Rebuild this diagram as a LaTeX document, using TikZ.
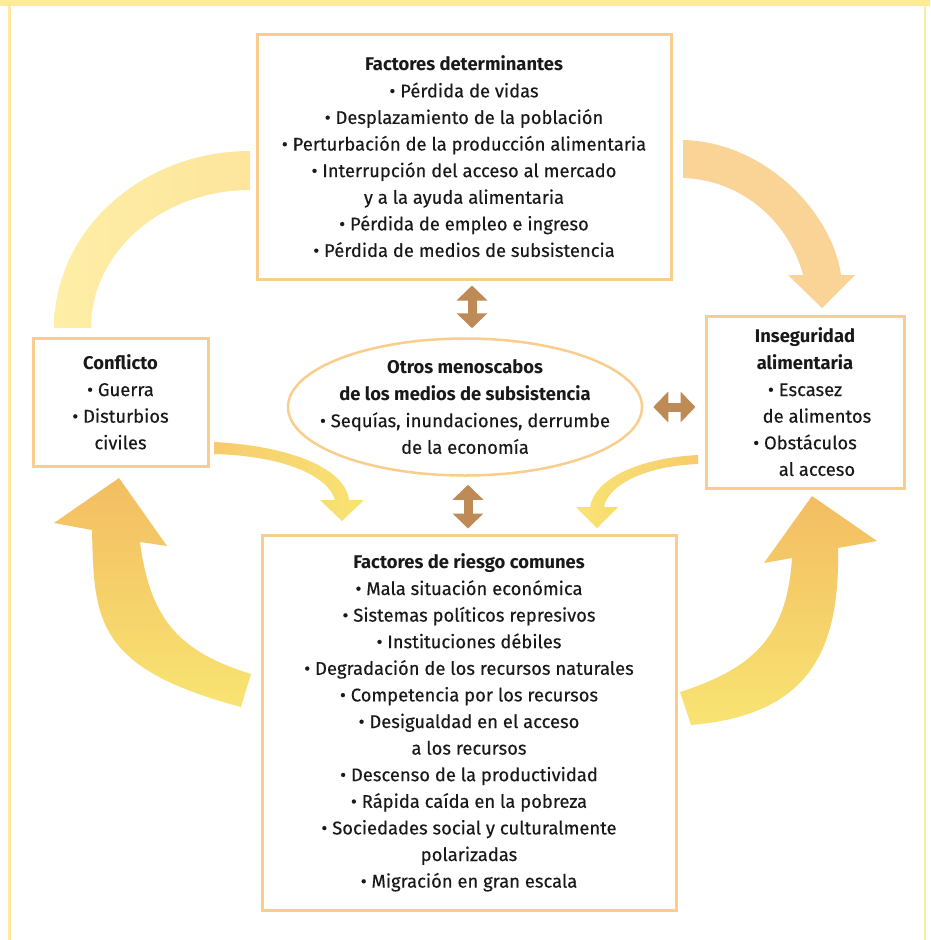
\documentclass[tikz,border=0pt]{standalone}
\usepackage{fontspec}
\setmainfont{Fira Sans}[UprightFeatures={FakeBold=0.3}]
\usetikzlibrary{arrows.meta,shapes.geometric}
\definecolor{frameyellow}{HTML}{FDEB9B}
\definecolor{boxorange}{HTML}{F9CD8B}
\definecolor{linkbrown}{HTML}{BE8A56}
\definecolor{arclight}{HTML}{FEEEA6}
\definecolor{arcdark}{HTML}{FDE59C}
\definecolor{arcorange}{HTML}{FAD396}
\definecolor{flowyellow}{HTML}{F8E472}
\definecolor{floworange}{HTML}{F3BD62}
\definecolor{thinorange}{HTML}{F7CB6E}
\tikzset{
  txt/.style={align=center, inner sep=0pt, text=black!90,
    font=\fontsize{18.4}{26.6}\selectfont},
  box/.style={txt, draw=boxorange, line width=3pt, fill=white},
  link/.style={linkbrown, line width=9pt,
    {Triangle[length=15pt,width=30pt]}-{Triangle[length=15pt,width=30pt]}}
}
\begin{document}
\begin{tikzpicture}[x=1pt,y=-1pt]
	\useasboundingbox (0,0) rectangle (930,940);
	% frame
	\fill[frameyellow] (0,0) rectangle (930,6);
	\fill[frameyellow] (8,6) rectangle (10.5,940);
	\fill[frameyellow] (923.5,6) rectangle (926,940);
	% big arrows round the cycle
	\shade[left color=arclight, right color=arcdark]
	(54,328) arc[start angle=180, end angle=270, x radius=196, y radius=177]
	-- (250,190) arc[start angle=270, end angle=180, x radius=159, y radius=138]
	-- cycle;
	\fill[arcorange]
	(683,140) .. controls (765,142) and (832,212) .. (841,275)
	-- (855,275) -- (822,308) -- (788,275) -- (803,275)
	.. controls (790,225) and (745,180) .. (683,178) -- cycle;
	\shade[top color=floworange, bottom color=flowyellow]
	(92,530) .. controls (94,620) and (95,668) .. (241,707)
	-- (251,674) .. controls (180,652) and (150,620) .. (140,542)
	-- (167,546) -- (119,478) -- (54,523) -- cycle;
	\shade[top color=floworange, bottom color=flowyellow]
	(680,692) .. controls (755,668) and (787,635) .. (792,558)
	-- (764,563) -- (812,496) -- (877,541) -- (838,548)
	.. controls (840,650) and (810,715) .. (691,725) -- cycle;
	% thin arrows
	\shade[left color=thinorange, right color=flowyellow]
	(214,442) .. controls (290,446) and (345,468) .. (349,500)
	-- (364,500) -- (342,521) -- (320,500) -- (335,500)
	.. controls (328,476) and (285,456) .. (214,454) -- cycle;
	\shade[left color=flowyellow, right color=thinorange]
	(698,455) .. controls (640,458) and (595,478) .. (590,507)
	-- (576,507) -- (597,528) -- (618,507) -- (604,507)
	.. controls (608,485) and (645,466) .. (698,464) -- cycle;
	% boxes
	\node[box, minimum width=414pt, minimum height=245pt] (det) at (464,156.5)
	{\textbf{Factores determinantes}\\
	\textbullet\ Pérdida de vidas\\
	\textbullet\ Desplazamiento de la población\\
	\textbullet\ Perturbación de la producción alimentaria\\
	\textbullet\ Interrupción del acceso al mercado\\
	y a la ayuda alimentaria\\
	\textbullet\ Pérdida de empleo e ingreso\\
	\textbullet\ Pérdida de medios de subsistencia};
	\node[box, minimum width=175pt, minimum height=128pt] (conf) at (120.5,402)
	{\textbf{Conflicto}\\
	\textbullet\ Guerra\\
	\textbullet\ Disturbios\\
	civiles};
	\node[box, minimum width=198pt, minimum height=172pt] (inseg) at (805,402)
	{\textbf{Inseguridad}\\
	\textbf{alimentaria}\\
	\textbullet\ Escasez\\
	\hspace*{1.3em}de alimentos\\
	\textbullet\ Obstáculos\\
	\hspace*{1.3em}al acceso};
	\node[draw=boxorange, line width=2.5pt, ellipse,
	minimum width=354pt, minimum height=137pt] (otros) at (465,407) {};
	\node[txt] (otros-txt) at (otros)
	{\textbf{Otros menoscabos}\\
	\textbf{de los medios de subsistencia}\\
	\textbullet\ Sequías, inundaciones, derrumbe\\
	de la economía};
	\node[box, minimum width=414pt, minimum height=375pt] (riesgo) at (469,722.5)
	{\textbf{Factores de riesgo comunes}\\
	\textbullet\ Mala situación económica\\
	\textbullet\ Sistemas políticos represivos\\
	\textbullet\ Instituciones débiles\\
	\textbullet\ Degradación de los recursos naturales\\
	\textbullet\ Competencia por los recursos\\
	\textbullet\ Desigualdad en el acceso\\
	a los recursos\\
	\textbullet\ Descenso de la productividad\\
	\textbullet\ Rápida caída en la pobreza\\
	\textbullet\ Sociedades social y culturalmente\\
	polarizadas\\
	\textbullet\ Migración en gran escala};
	% links
	\draw[link, shorten <=5pt, shorten >=9pt]
	([xshift=8pt]det.south) -- ([xshift=8pt]det.south |- otros.north);
	\draw[link, shorten <=8pt, shorten >=5pt]
	([xshift=3pt]otros.south) -- ([xshift=3pt]otros.south |- riesgo.north);
	\draw[link, shorten <=10pt, shorten >=9pt]
	(otros.east) -- (otros.east -| inseg.west);
\end{tikzpicture}
\end{document}
